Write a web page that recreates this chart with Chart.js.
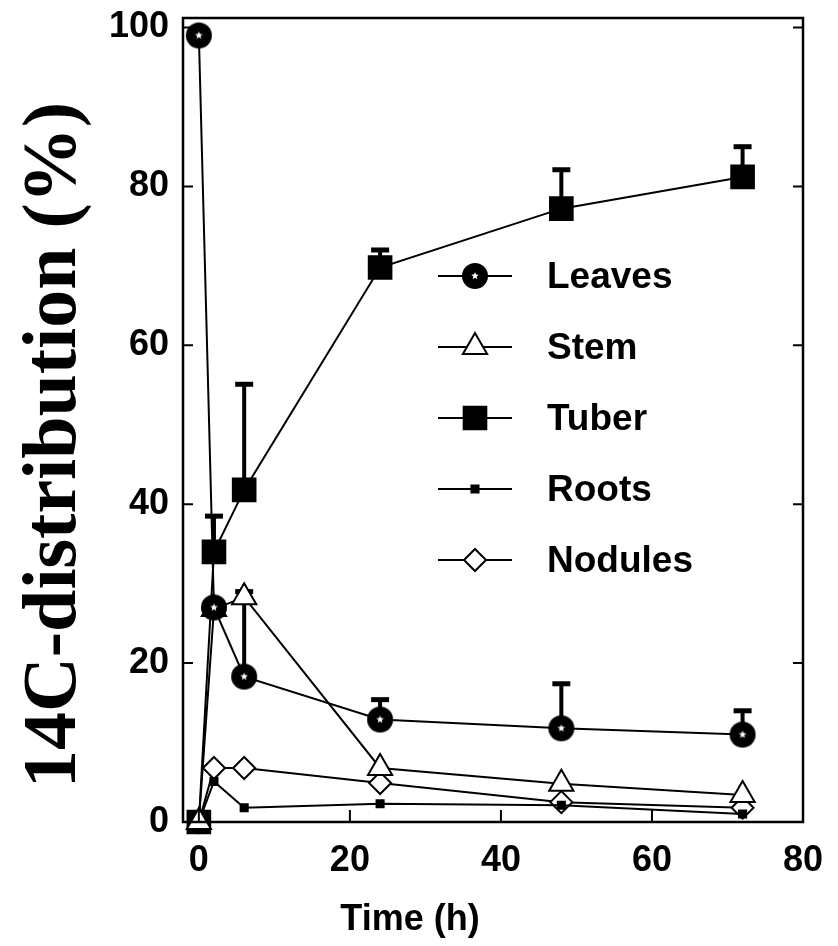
<!DOCTYPE html>
<html>
<head>
<meta charset="utf-8">
<script src="https://cdn.jsdelivr.net/npm/chart.js@4.4.0/dist/chart.umd.min.js"></script>
<style>
  html, body { margin: 0; padding: 0; background: #fff; }
</style>
</head>
<body>
<canvas id="chart" width="838" height="946"></canvas>
<script>
'use strict';

// time points (h)
var times = [0, 2, 6, 24, 48, 72];

// 14C distribution (%) per organ
var leaves  = [99, 27, 18.3, 12.9, 11.8, 11.0];
var stem    = [0, 26.8, 28.3, 6.8, 4.8, 3.4];
var tuber   = [0, 34, 41.8, 69.8, 77.2, 81.2];
var roots   = [0, 5.1, 1.8, 2.3, 2.1, 1.0];
var nodules = [0, 6.8, 6.8, 4.9, 2.5, 1.8];

// upper end of error bars (null = none drawn)
var leavesErrTop = [null, null, 29, 15.4, 17.4, 14.0];
var tuberErrTop  = [null, 38.5, 55.1, 72, 82.1, 85];

var xTicks = [0, 20, 40, 60, 80];
var yTicks = [0, 20, 40, 60, 80, 100];

var labels = ['Leaves', 'Stem', 'Tuber', 'Roots', 'Nodules'];

// black disc with a little white star, like the printed symbol
function leafMark(r) {
  var c = document.createElement('canvas');
  c.width = c.height = 2 * r + 2;
  var g = c.getContext('2d');
  g.fillStyle = '#000';
  g.beginPath();
  g.arc(r + 1, r + 1, r, 0, 2 * Math.PI);
  g.fill();
  g.fillStyle = '#fff';
  g.beginPath();
  for (var k = 0; k < 10; k++) {
    var a = -Math.PI / 2 + k * Math.PI / 5;
    var rr = k % 2 ? 1.7 : 4;
    g.lineTo(r + 1 + rr * Math.cos(a), r + 1 + rr * Math.sin(a));
  }
  g.closePath();
  g.fill();
  return c;
}

var sans = '"Liberation Sans", Arial, Helvetica, sans-serif';
var serif = '"Liberation Serif", "Times New Roman", serif';

function series(label, data, style, radius, fill) {
  return {
    label: label,
    data: data.map(function (v, i) { return { x: times[i], y: v }; }),
    borderColor: '#000',
    borderWidth: 2,
    pointStyle: style,
    pointRadius: radius,
    pointBackgroundColor: fill,
    pointBorderColor: '#000',
    pointBorderWidth: 2,
    tension: 0,
    clip: false
  };
}

var errSets = [
  { dataset: 0, tops: leavesErrTop },
  { dataset: 2, tops: tuberErrTop }
];

var decor = {
  id: 'decor',
  beforeDatasetsDraw: function (chart) {
    var ctx = chart.ctx, xs = chart.scales.x, ys = chart.scales.y;
    ctx.save();
    ctx.strokeStyle = '#000';
    errSets.forEach(function (e) {
      var vals = chart.data.datasets[e.dataset].data;
      e.tops.forEach(function (top, i) {
        if (top === null) return;
        var px = xs.getPixelForValue(times[i]);
        var py0 = ys.getPixelForValue(vals[i].y);
        var py1 = ys.getPixelForValue(top);
        ctx.lineWidth = 4;
        ctx.beginPath();
        ctx.moveTo(px, py0);
        ctx.lineTo(px, py1);
        ctx.stroke();
        ctx.lineWidth = 5;
        ctx.beginPath();
        ctx.moveTo(px - 9, py1);
        ctx.lineTo(px + 9, py1);
        ctx.stroke();
      });
    });
    ctx.restore();
  },
  afterDraw: function (chart) {
    var ctx = chart.ctx, a = chart.chartArea;
    var xs = chart.scales.x, ys = chart.scales.y;
    ctx.save();
    ctx.strokeStyle = '#000';

    // frame
    ctx.lineWidth = 2.5;
    ctx.strokeRect(a.left, a.top, a.right - a.left, a.bottom - a.top);

    // inward ticks
    ctx.lineWidth = 2;
    ctx.beginPath();
    ys.ticks.forEach(function (t) {
      var py = ys.getPixelForValue(t.value);
      ctx.moveTo(a.left, py); ctx.lineTo(a.left + 10, py);
      ctx.moveTo(a.right, py); ctx.lineTo(a.right - 10, py);
    });
    xs.ticks.forEach(function (t) {
      var px = xs.getPixelForValue(t.value);
      ctx.moveTo(px, a.bottom); ctx.lineTo(px, a.bottom - 12);
    });
    ctx.stroke();

    // legend inside the plot
    var lx0 = 438, lx1 = 512, mx = 475, tx = 547, ly = 276, step = 71;
    chart.data.datasets.forEach(function (ds, i) {
      var y = ly + i * step;
      ctx.lineWidth = 2;
      ctx.strokeStyle = '#000';
      ctx.beginPath();
      ctx.moveTo(lx0, y); ctx.lineTo(lx1, y);
      ctx.stroke();
      ctx.fillStyle = ds.pointBackgroundColor || '#000';
      Chart.helpers.drawPoint(ctx, {
        pointStyle: ds.pointStyle,
        radius: ds.pointRadius,
        rotation: 0,
        borderWidth: ds.pointBorderWidth
      }, mx, y);
      ctx.fillStyle = '#000';
      ctx.font = 'bold 37px ' + sans;
      ctx.textAlign = 'left';
      ctx.textBaseline = 'middle';
      ctx.fillText(ds.label, tx, y + 2);
    });

    // axis titles
    ctx.fillStyle = '#000';
    ctx.font = 'bold 36px ' + sans;
    ctx.textAlign = 'center';
    ctx.textBaseline = 'middle';
    ctx.fillText('Time (h)', 410, 920);

    ctx.translate(55, 445);
    ctx.rotate(-Math.PI / 2);
    ctx.font = 'bold 76px ' + serif;
    ctx.fillText('14C-distribution (%)', 0, 0);
    ctx.restore();
  }
};

new Chart(document.getElementById('chart'), {
  type: 'line',
  data: {
    datasets: [
      series(labels[0], leaves, leafMark(13), 13, '#000'),
      series(labels[1], stem, 'triangle', 14, '#fff'),
      series(labels[2], tuber, 'rect', 16, '#000'),
      series(labels[3], roots, 'rect', 5, '#000'),
      series(labels[4], nodules, 'rectRot', 11, '#fff')
    ]
  },
  options: {
    responsive: false,
    animation: false,
    layout: { padding: { top: 14, right: 35, bottom: 0, left: 0 } },
    plugins: { legend: { display: false }, tooltip: { enabled: false } },
    scales: {
      x: {
        type: 'linear',
        min: -2.1,
        max: 80,
        afterBuildTicks: function (s) { s.ticks = xTicks.map(function (v) { return { value: v }; }); },
        afterFit: function (s) { s.height = 124; s.paddingLeft = 0; s.paddingRight = 0; },
        grid: { display: false, drawTicks: false },
        border: { display: false },
        ticks: { padding: 17, color: '#000', font: { family: sans, size: 36, weight: 'bold' } }
      },
      y: {
        min: 0,
        max: 101.2,
        afterBuildTicks: function (s) { s.ticks = yTicks.map(function (v) { return { value: v }; }); },
        afterFit: function (s) { s.width = 183; s.paddingTop = 0; s.paddingBottom = 0; },
        grid: { display: false, drawTicks: false },
        border: { display: false },
        ticks: { padding: 14, color: '#000', font: { family: sans, size: 36, weight: 'bold' } }
      }
    }
  },
  plugins: [decor]
});
</script>
</body>
</html>
